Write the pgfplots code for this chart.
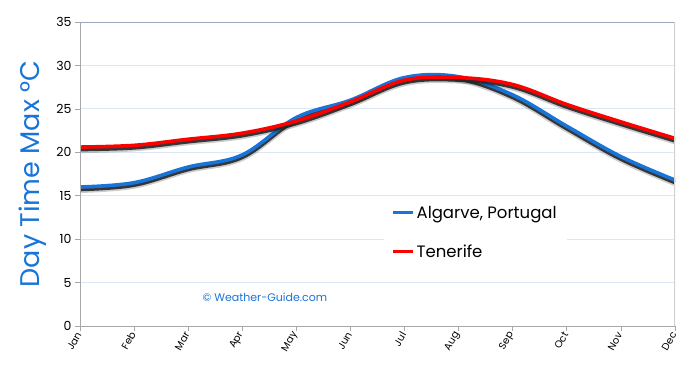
\documentclass[border=0pt]{standalone}
\usepackage{fontspec}
\setmainfont{Poppins}
\usepackage{pgfplots}
\pgfplotsset{compat=1.18}
\definecolor{algblue}{HTML}{1874D8}
\definecolor{gridblue}{HTML}{DCE6F5}
\definecolor{axgray}{HTML}{A8A8A8}
\definecolor{topline}{HTML}{9AA8C0}
\begin{document}
\begin{tikzpicture}
\useasboundingbox (0,0) rectangle (690pt,375pt);
\begin{axis}[
  at={(80pt,49pt)}, anchor=south west,
  scale only axis, width=595pt, height=304pt,
  xmin=0, xmax=11, ymin=0, ymax=35,
  xtick={0,...,11},
  xticklabels={Jan,Feb,Mar,Apr,May,Jun,Jul,Aug,Sep,Oct,Nov,Dec},
  ytick={0,5,...,35},
  ymajorgrids, grid style={gridblue, line width=0.9pt},
  axis line style={draw=none},
  tick align=outside, tick style={axgray, line width=0.7pt}, major tick length=5pt,
  xtick pos=bottom, ytick pos=left,
  xticklabel style={rotate=60, anchor=east, font=\fontsize{10}{10}\selectfont, inner sep=2pt},
  yticklabel style={font=\fontsize{12.5}{12.5}\selectfont},
  /pgf/number format/assume math mode=true,
  ylabel={Day Time Max °C},
  ylabel style={color=algblue, font=\fontsize{27}{27}\selectfont, at={(axis description cs:-0.08,0.5)}, anchor=center},
  legend style={draw=none, fill=white, at={(axis description cs:0.51,0.415)}, anchor=north west,
    font=\fontsize{16.5}{16.5}\selectfont, row sep=21pt, inner xsep=8pt, inner ysep=4pt},
  legend cell align=left,
  legend image code/.code={\draw[#1, line width=3pt] (0pt,0pt) -- (20pt,0pt);},
]
% Algarve shadow + line
\addplot[forget plot, black, opacity=0.2, line width=7pt, smooth, tension=0.6, yshift=-2.5pt] coordinates {
(0,16.0) (1,16.5) (2,18.3) (3,19.7) (4,24.0) (5,26.0) (6,28.6) (7,28.7) (8,26.6) (9,23.0) (10,19.5) (11,16.8)};
\addplot[forget plot, black!85, opacity=0.9, line width=4pt, smooth, tension=0.6, yshift=-2.3pt] coordinates {
(0,16.0) (1,16.5) (2,18.3) (3,19.7) (4,24.0) (5,26.0) (6,28.6) (7,28.7) (8,26.6) (9,23.0) (10,19.5) (11,16.8)};
\addplot[algblue, line width=3.6pt, smooth, tension=0.6] coordinates {
(0,16.0) (1,16.5) (2,18.3) (3,19.7) (4,24.0) (5,26.0) (6,28.6) (7,28.7) (8,26.6) (9,23.0) (10,19.5) (11,16.8)};
\addlegendentry{Algarve, Portugal}
% Tenerife shadow + line
\addplot[forget plot, black, opacity=0.2, line width=7pt, smooth, tension=0.6, yshift=-2.5pt] coordinates {
(0,20.6) (1,20.8) (2,21.5) (3,22.2) (4,23.6) (5,25.8) (6,28.3) (7,28.6) (8,27.8) (9,25.5) (10,23.5) (11,21.6)};
\addplot[forget plot, black!85, opacity=0.9, line width=4pt, smooth, tension=0.6, yshift=-2.3pt] coordinates {
(0,20.6) (1,20.8) (2,21.5) (3,22.2) (4,23.6) (5,25.8) (6,28.3) (7,28.6) (8,27.8) (9,25.5) (10,23.5) (11,21.6)};
\addplot[red, line width=3.6pt, smooth, tension=0.6] coordinates {
(0,20.6) (1,20.8) (2,21.5) (3,22.2) (4,23.6) (5,25.8) (6,28.3) (7,28.6) (8,27.8) (9,25.5) (10,23.5) (11,21.6)};
\addlegendentry{Tenerife}
\node[algblue, font=\fontsize{11}{11}\selectfont] at (axis cs:3.42,3.35) {\textcopyright\ Weather-Guide.com};
\draw[axgray, line width=0.8pt] (rel axis cs:0,0) -- (rel axis cs:0,1);
\draw[axgray, line width=0.8pt] (rel axis cs:0,0) -- (rel axis cs:1,0);
\draw[topline, line width=0.8pt] (rel axis cs:0,1) -- (rel axis cs:1,1);
\draw[black!18, line width=2.5pt] (rel axis cs:1,0) -- (rel axis cs:1,1);
\end{axis}
\end{tikzpicture}
\end{document}
